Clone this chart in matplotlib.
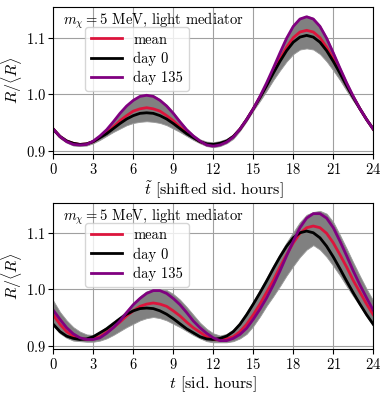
# Daily modulation of the rate, R/<R>, for a 5 MeV DM with light mediator

import matplotlib
matplotlib.use("Agg")
import matplotlib.pyplot as plt
import numpy as np

plt.rcParams["font.family"] = "serif"
plt.rcParams["font.serif"] = ["cmr10"]
plt.rcParams["mathtext.fontset"] = "cm"
plt.rcParams["axes.formatter.use_mathtext"] = True
plt.rcParams["font.size"] = 10

# half-hour grid, 0 .. 24 h
hours = np.arange(0, 24.5, 0.5)

# top panel: shifted sidereal hours
day0_top = [0.938, 0.925, 0.917, 0.913, 0.911, 0.912, 0.916, 0.923, 0.930, 0.939, 0.948, 0.956, 0.962,
            0.966, 0.967, 0.966, 0.962, 0.956, 0.948, 0.939, 0.930, 0.923, 0.916, 0.912, 0.911, 0.913,
            0.917, 0.925, 0.938, 0.955, 0.974, 0.994, 1.015, 1.037, 1.058, 1.077, 1.092, 1.101, 1.104,
            1.101, 1.092, 1.077, 1.058, 1.037, 1.015, 0.994, 0.974, 0.955, 0.938]
day135_top = [0.938, 0.925, 0.916, 0.911, 0.910, 0.911, 0.917, 0.926, 0.937, 0.951, 0.966, 0.979, 0.989,
              0.996, 0.998, 0.996, 0.989, 0.979, 0.966, 0.951, 0.937, 0.926, 0.917, 0.910, 0.908, 0.910,
              0.915, 0.924, 0.938, 0.955, 0.974, 0.996, 1.020, 1.046, 1.073, 1.099, 1.120, 1.133, 1.137,
              1.133, 1.120, 1.099, 1.073, 1.046, 1.020, 0.996, 0.974, 0.955, 0.938]
mean_top = [0.938, 0.925, 0.917, 0.913, 0.911, 0.912, 0.916, 0.924, 0.932, 0.942, 0.953, 0.962, 0.970,
            0.974, 0.976, 0.974, 0.970, 0.962, 0.953, 0.942, 0.932, 0.924, 0.916, 0.911, 0.910, 0.912,
            0.916, 0.925, 0.938, 0.955, 0.974, 0.995, 1.016, 1.040, 1.062, 1.083, 1.100, 1.110, 1.113,
            1.110, 1.100, 1.083, 1.062, 1.040, 1.016, 0.995, 0.974, 0.955, 0.938]
band_lo_top = [0.935, 0.922, 0.914, 0.909, 0.908, 0.909, 0.913, 0.919, 0.926, 0.933, 0.939, 0.945, 0.949,
               0.951, 0.952, 0.951, 0.949, 0.945, 0.939, 0.933, 0.926, 0.919, 0.913, 0.908, 0.906, 0.908,
               0.913, 0.921, 0.935, 0.952, 0.971, 0.988, 1.006, 1.025, 1.042, 1.058, 1.071, 1.079, 1.081,
               1.079, 1.071, 1.058, 1.042, 1.025, 1.006, 0.988, 0.971, 0.952, 0.935]
band_hi_top = [0.941, 0.928, 0.920, 0.915, 0.913, 0.914, 0.919, 0.928, 0.939, 0.953, 0.968, 0.981, 0.991,
               0.998, 1.000, 0.998, 0.991, 0.981, 0.968, 0.953, 0.939, 0.928, 0.920, 0.916, 0.915, 0.917,
               0.921, 0.929, 0.941, 0.958, 0.977, 0.998, 1.022, 1.048, 1.075, 1.101, 1.122, 1.135, 1.139,
               1.135, 1.122, 1.101, 1.075, 1.048, 1.022, 0.998, 0.977, 0.958, 0.941]

# bottom panel: sidereal hours (day 0 is the same curve)
day0_bot = day0_top
day135_bot = [0.963, 0.947, 0.932, 0.921, 0.914, 0.911, 0.911, 0.914, 0.922, 0.932, 0.944, 0.959, 0.973,
              0.984, 0.993, 0.998, 0.998, 0.993, 0.984, 0.973, 0.959, 0.944, 0.932, 0.922, 0.914, 0.909,
              0.909, 0.913, 0.920, 0.931, 0.947, 0.965, 0.985, 1.008, 1.033, 1.060, 1.086, 1.110, 1.127,
              1.135, 1.135, 1.127, 1.110, 1.086, 1.060, 1.033, 1.008, 0.985, 0.963]
mean_bot = [0.955, 0.938, 0.925, 0.917, 0.913, 0.911, 0.912, 0.916, 0.924, 0.932, 0.942, 0.953, 0.962,
            0.970, 0.974, 0.976, 0.974, 0.970, 0.962, 0.953, 0.942, 0.932, 0.924, 0.916, 0.911, 0.910,
            0.912, 0.916, 0.925, 0.938, 0.955, 0.974, 0.995, 1.016, 1.040, 1.062, 1.083, 1.100, 1.110,
            1.113, 1.110, 1.100, 1.083, 1.062, 1.040, 1.016, 0.995, 0.974, 0.955]
band_lo_bot = [0.935, 0.922, 0.914, 0.909, 0.908, 0.907, 0.907, 0.909, 0.913, 0.919, 0.926, 0.933, 0.939,
               0.945, 0.949, 0.951, 0.949, 0.945, 0.939, 0.933, 0.926, 0.919, 0.913, 0.908, 0.906, 0.906,
               0.906, 0.908, 0.913, 0.921, 0.935, 0.952, 0.971, 0.988, 1.006, 1.025, 1.042, 1.058, 1.071,
               1.079, 1.071, 1.058, 1.042, 1.025, 1.006, 0.988, 0.971, 0.952, 0.935]
band_hi_bot = [0.980, 0.960, 0.945, 0.933, 0.925, 0.920, 0.919, 0.925, 0.934, 0.943, 0.952, 0.962, 0.976,
               0.988, 0.997, 1.000, 1.000, 0.999, 0.992, 0.982, 0.969, 0.955, 0.941, 0.930, 0.922, 0.918,
               0.921, 0.929, 0.942, 0.960, 0.979, 1.000, 1.021, 1.043, 1.064, 1.084, 1.102, 1.120, 1.133,
               1.138, 1.140, 1.135, 1.120, 1.097, 1.073, 1.048, 1.024, 1.001, 0.980]

fig = plt.figure(figsize=(3.89, 3.98), dpi=100)
ax1 = fig.add_axes([0.137, 0.613, 0.8226, 0.369])
ax2 = fig.add_axes([0.137, 0.123, 0.8226, 0.367])

panels = [
    (ax1, day0_top, day135_top, mean_top, band_lo_top, band_hi_top, r"$\tilde{t}$ [shifted sid. hours]"),
    (ax2, day0_bot, day135_bot, mean_bot, band_lo_bot, band_hi_bot, r"$t$ [sid. hours]"),
]

for ax, d0, d135, mn, lo, hi, xlabel in panels:
    ax.fill_between(hours, lo, hi, color="gray", lw=0.6, edgecolor="#9a9a9a")
    ax.plot(hours, mn, color="crimson", lw=2.0, label="mean")
    ax.plot(hours, d0, color="black", lw=2.0, label="day 0")
    ax.plot(hours, d135, color="purple", lw=2.0, label="day 135")
    ax.set_xlim(0, 24)
    ax.set_ylim(0.894, 1.154)
    ax.set_xticks(range(0, 25, 3))
    ax.set_yticks([0.9, 1.0, 1.1])
    ax.grid(True, color="#a0a0a0", lw=0.8)
    ax.set_axisbelow(True)
    ax.set_xlabel(xlabel, fontsize=11.5, labelpad=2)
    ax.set_ylabel(r"$R/\langle R\rangle$", fontsize=11.5, labelpad=1)
    ax.tick_params(labelsize=10.5, pad=2)
    ax.text(0.03, 0.905, r"$m_\chi = 5$ MeV, light mediator", transform=ax.transAxes,
            fontsize=10.5, va="center", ha="left")
    ax.legend(loc="upper left", bbox_to_anchor=(0.1, 0.865), borderaxespad=0,
              fontsize=10.5, handlelength=2.1, labelspacing=0.35)

fig.savefig("out.png", dpi=100)
